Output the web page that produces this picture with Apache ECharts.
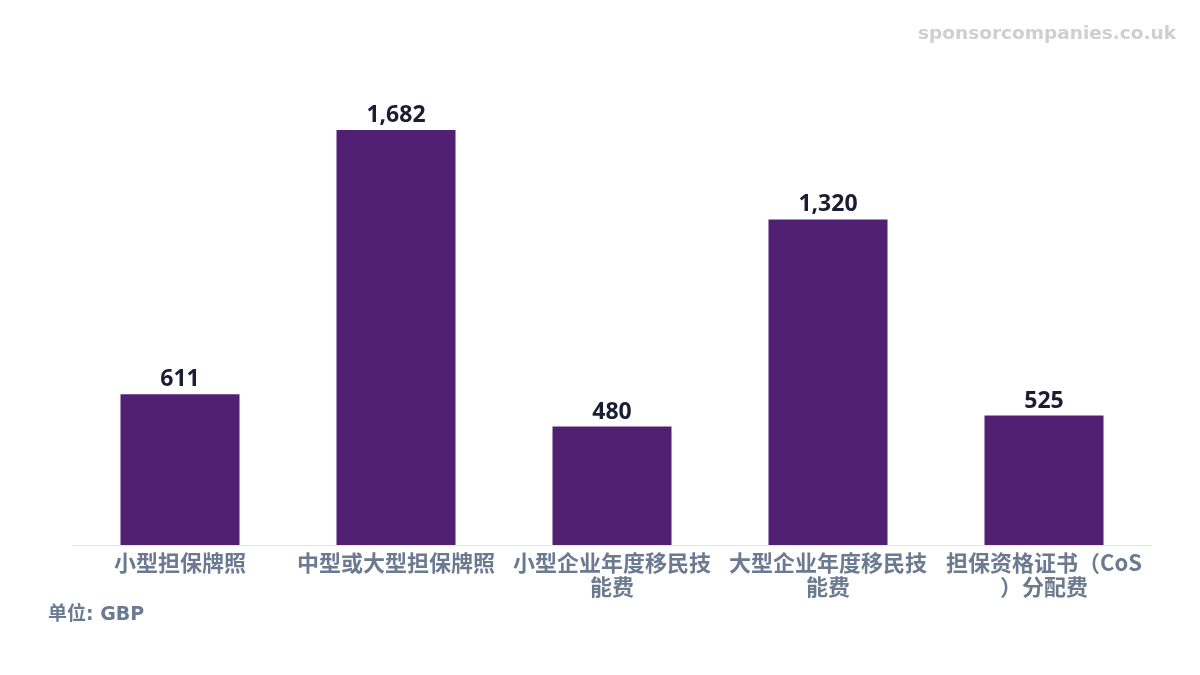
<!DOCTYPE html>
<html><head><meta charset="utf-8">
<script src="https://cdn.jsdelivr.net/npm/echarts@6/dist/echarts.min.js"></script>
<style>html,body{margin:0;padding:0;background:#fff}#c{width:1200px;height:675px}</style>
</head><body><div id="c"></div>
<script>
const categories = ['小型担保牌照','中型或大型担保牌照','小型企业年度移民技能费','大型企业年度移民技能费','担保资格证书（CoS）分配费'];
const values = [611, 1682, 480, 1320, 525];
const chart = echarts.init(document.getElementById('c'));
const font = '"Noto Sans CJK SC","Noto Sans",sans-serif';
chart.setOption({
  animation:false,
  graphic:[
    {type:'text',right:24,top:25,style:{text:'sponsorcompanies.co.uk',fill:'#cfcfcf',font:'bold 18.5px "DejaVu Sans",sans-serif'}},
    {type:'text',left:48,top:606,style:{text:'单位: GBP',fill:'#6b7a90',font:'bold 19px "DejaVu Sans","Noto Sans CJK SC",sans-serif'}}
  ],
  grid:{left:72,right:48,top:101,bottom:130},
  xAxis:{type:'category',data:categories,
    axisLine:{lineStyle:{color:'#e6e6e6'}},axisTick:{show:false},
    axisLabel:{color:'#6b7a90',fontSize:22,fontWeight:'bold',fontFamily:font,interval:0,width:208,overflow:'break',lineHeight:24,margin:6}},
  yAxis:{type:'value',min:0,max:1800,show:false,splitLine:{show:false}},
  series:[{type:'bar',data:values,barWidth:119,itemStyle:{color:'#522073'},
    label:{show:true,position:'top',distance:3,color:'#1a1d33',fontSize:23,fontWeight:'bold',fontFamily:'"Noto Sans",sans-serif',
      formatter:p=>p.value.toLocaleString('en-US')}}]
});
</script></body></html>
